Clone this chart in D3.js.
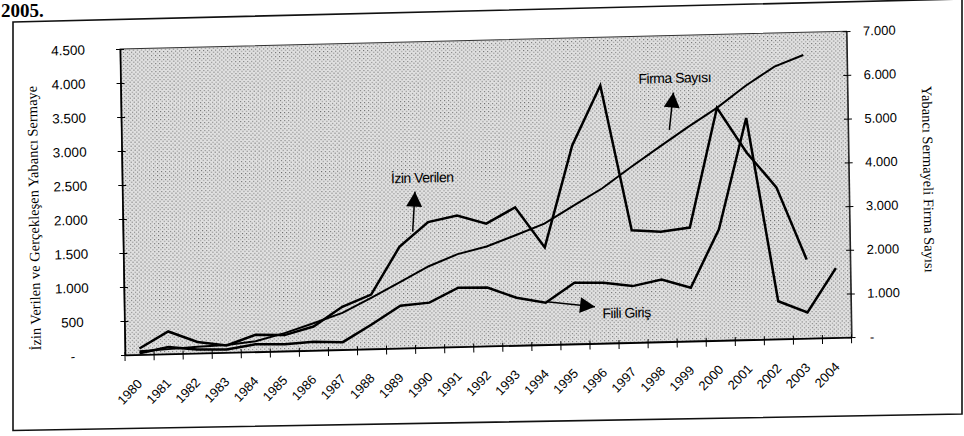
<!DOCTYPE html>
<html>
<head>
<meta charset="utf-8">
<script src="https://cdn.jsdelivr.net/npm/d3@7"></script>
<style>
  html, body { margin: 0; padding: 0; background: #fff; }
  svg { display: block; }
  text { font-family: "Liberation Sans", Arial, sans-serif; fill: #000; }
  .serif { font-family: "Liberation Serif", "Times New Roman", serif; }
</style>
</head>
<body>
<div id="chart"></div>
<script>
const years = ['1980','1981','1982','1983','1984','1985','1986','1987','1988','1989','1990','1991',
  '1992','1993','1994','1995','1996','1997','1998','1999','2000','2001','2002','2003','2004'];

// left axis (million $) – permitted FDI, 1980-2003
const izinVerilen = [90, 330, 165, 105, 250, 235, 350, 630, 800, 1490, 1845, 1930,
  1800, 2030, 1430, 2920, 3790, 1650, 1620, 1670, 3420, 2750, 2230, 1160];
// left axis – actual inflow, 1980-2004
const fiiliGiris = [20, 100, 55, 46, 110, 100, 125, 110, 360, 625, 660, 870,
  860, 700, 617, 900, 890, 830, 915, 785, 1635, 3260, 555, 380, 1020];
// right axis – number of foreign-capital firms, 1980-2003
const firmaSayisi = [80, 110, 150, 170, 240, 410, 620, 840, 1170, 1510, 1860, 2120,
  2280, 2520, 2770, 3160, 3540, 4010, 4460, 4900, 5320, 5810, 6230, 6480];

const leftTicks  = [0, 500, 1000, 1500, 2000, 2500, 3000, 3500, 4000, 4500];
const rightTicks = [0, 1000, 2000, 3000, 4000, 5000, 6000, 7000];

const W = 964, H = 436;
const plot = { left: 125, right: 851.5, top: 49, bottom: 355 };
// the scanned page is a bit skewed: horizontals fall to the left, verticals lean
const SKEW_Y = -0.0245, SKEW_X = 0.0163;

const svg = d3.select('#chart').append('svg').attr('width', W).attr('height', H);

const defs = svg.append('defs');
const pat = defs.append('pattern').attr('id', 'halftone')
  .attr('width', 4).attr('height', 4).attr('patternUnits', 'userSpaceOnUse');
pat.append('rect').attr('width', 4).attr('height', 4).attr('fill', '#e0e0e0');
pat.append('rect').attr('x', 0).attr('y', 0).attr('width', 1).attr('height', 1).attr('fill', '#6a6a6a');
pat.append('rect').attr('x', 2).attr('y', 2).attr('width', 1).attr('height', 1).attr('fill', '#6a6a6a');

// page residue above the frame
svg.append('text').attr('class', 'serif')
  .attr('x', 1).attr('y', 17)
  .style('font-size', '19px').style('font-weight', 'bold')
  .text('2005.');

// outer frame
svg.append('path')
  .attr('d', 'M13,22 L962,-1 L962,414 L13,430.5 Z')
  .attr('fill', 'none').attr('stroke', '#111').attr('stroke-width', 1.6);

const g = svg.append('g')
  .attr('transform', `matrix(1,${SKEW_Y},${SKEW_X},1,${-SKEW_X * plot.bottom},${-SKEW_Y * plot.left})`);

const x = d3.scaleBand().domain(years).range([plot.left, plot.right]).padding(0);
const yL = d3.scaleLinear().domain([0, 4500]).range([plot.bottom, plot.top]);
const yR = d3.scaleLinear().domain([0, 7000]).range([plot.bottom, plot.top]);
const cx = yr => x(yr) + x.bandwidth() / 2;

const trFormat = d3.formatLocale({ decimal: ',', thousands: '.', grouping: [3], currency: ['', ''] }).format(',d');
const tickLabel = v => v === 0 ? '-' : trFormat(v);

// plot background
g.append('rect')
  .attr('x', plot.left).attr('y', plot.top)
  .attr('width', plot.right - plot.left).attr('height', plot.bottom - plot.top)
  .attr('fill', 'url(#halftone)').attr('stroke', '#333').attr('stroke-width', 1);

// left axis
const axL = g.append('g').attr('transform', `translate(${plot.left},0)`)
  .call(d3.axisLeft(yL).tickValues(leftTicks).tickSize(0).tickFormat(tickLabel));
axL.attr('font-family', null).attr('font-size', null);
axL.select('.domain').attr('stroke', '#000').attr('stroke-width', 1.6);
axL.selectAll('.tick line').attr('x1', -4).attr('x2', 4).attr('stroke', '#000');
axL.selectAll('.tick text')
  .attr('x', 73 - plot.left).attr('text-anchor', 'middle')
  .style('font-size', '13.5px');

// right axis
const axR = g.append('g').attr('transform', `translate(${plot.right},0)`)
  .call(d3.axisRight(yR).tickValues(rightTicks).tickSize(0).tickFormat(tickLabel));
axR.attr('font-family', null).attr('font-size', null);
axR.select('.domain').attr('stroke', '#222').attr('stroke-width', 1.2);
axR.selectAll('.tick line').attr('x1', -4).attr('x2', 4).attr('stroke', '#000');
axR.selectAll('.tick text')
  .attr('x', d => d === 0 ? 18.5 : 16.5).attr('text-anchor', 'start')
  .style('font-size', '13px');

// bottom axis: labels at band centres, ticks on band edges
const axB = g.append('g').attr('transform', `translate(0,${plot.bottom})`)
  .call(d3.axisBottom(x).tickSize(0));
axB.attr('font-family', null).attr('font-size', null);
axB.select('.domain').attr('stroke', '#000').attr('stroke-width', 1.6);
axB.selectAll('.tick text')
  .attr('x', 0).attr('y', 0).attr('dy', 0)
  .attr('transform', 'translate(3,30) rotate(-45)')
  .attr('text-anchor', 'end')
  .style('font-size', '13px');

const edges = years.map(yr => x(yr)).concat([x.range()[1]]);
g.append('g').selectAll('line').data(edges).join('line')
  .attr('x1', d => d).attr('x2', d => d)
  .attr('y1', plot.bottom - 3).attr('y2', plot.bottom + 6)
  .attr('stroke', '#000').attr('stroke-width', 1);

// axis titles
g.append('text').attr('class', 'serif')
  .attr('transform', 'translate(36,216) rotate(-90)')
  .attr('text-anchor', 'middle').attr('dy', '0.35em')
  .style('font-size', '14.5px')
  .text('İzin Verilen ve Gerçekleşen Yabancı Sermaye');

g.append('text').attr('class', 'serif')
  .attr('transform', 'translate(931,199) rotate(90)')
  .attr('text-anchor', 'middle').attr('dy', '0.35em')
  .style('font-size', '14.5px')
  .text('Yabancı Sermayeli Firma Sayısı');

// series
const series = [
  { name: 'izin',  values: izinVerilen, y: yL, width: 2.5 },
  { name: 'fiili', values: fiiliGiris,  y: yL, width: 2.5 },
  { name: 'firma', values: firmaSayisi, y: yR, width: 2 }
];
series.forEach(s => {
  const line = d3.line().x((d, i) => cx(years[i])).y(d => s.y(d));
  g.append('path')
    .datum(s.values)
    .attr('d', line)
    .attr('fill', 'none')
    .attr('stroke', '#000')
    .attr('stroke-width', s.width)
    .attr('stroke-linejoin', 'miter');
});

// annotations (label + arrow)
const notes = [
  { text: 'İzin Verilen', tx: 425, ty: 185, tail: [414.6, 238.7], tip: [417.5, 198.8] },
  { text: 'Firma Sayısı', tx: 679, ty: 91.5, tail: [672.8, 143.3], tip: [677.4, 106.1] },
  { text: 'Fiili Giriş',  tx: 627, ty: 325, tail: [547.4, 312], tip: [595.6, 318.2] }
];

function arrowHead(tail, tip, len, half) {
  const dx = tip[0] - tail[0], dy = tip[1] - tail[1];
  const n = Math.hypot(dx, dy), ux = dx / n, uy = dy / n;
  const bx = tip[0] - ux * len, by = tip[1] - uy * len;
  return `M${tip[0]},${tip[1]} L${bx - uy * half},${by + ux * half} L${bx + uy * half},${by - ux * half} Z`;
}

notes.forEach(n => {
  g.append('text')
    .attr('x', n.tx).attr('y', n.ty).attr('dy', '0.35em')
    .attr('text-anchor', 'middle')
    .style('font-size', '14px').style('letter-spacing', '-0.5px')
    .text(n.text);
  g.append('line')
    .attr('x1', n.tail[0]).attr('y1', n.tail[1])
    .attr('x2', n.tip[0]).attr('y2', n.tip[1])
    .attr('stroke', '#000').attr('stroke-width', 1.5);
  g.append('path')
    .attr('d', arrowHead(n.tail, n.tip, 15, 8))
    .attr('fill', '#000');
});
</script>
</body>
</html>
